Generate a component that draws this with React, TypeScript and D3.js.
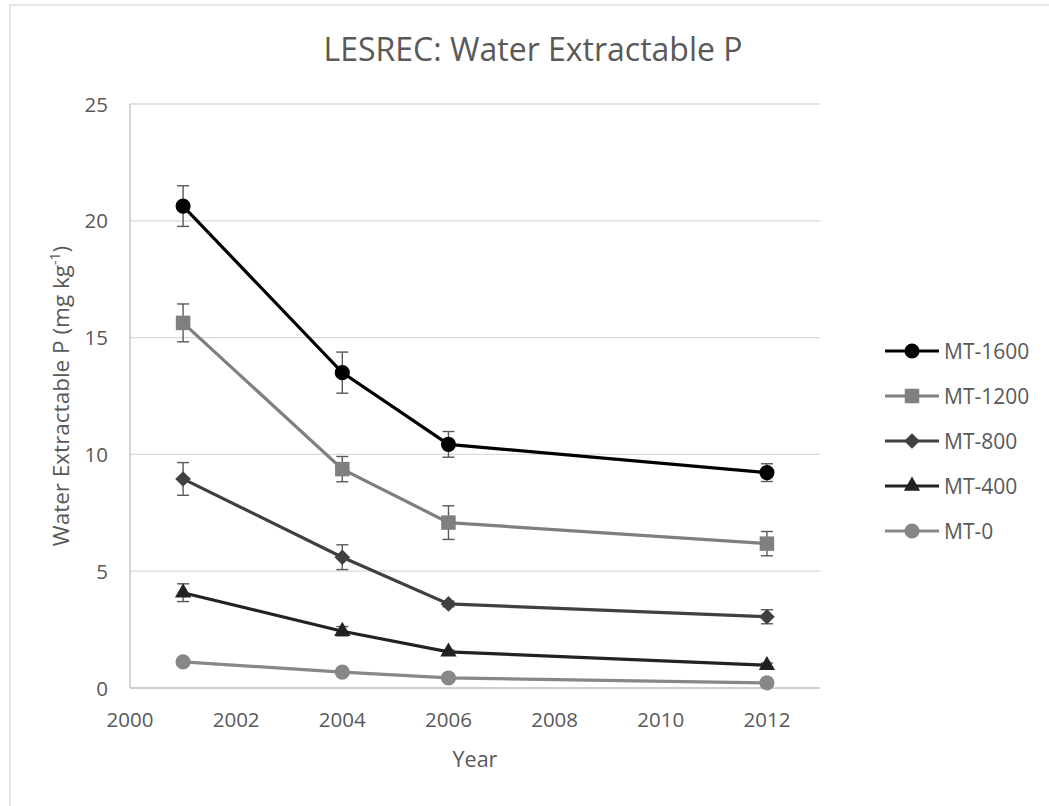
import React from "react";
import * as d3 from "d3";

const years = [2001, 2004, 2006, 2012];
const seriesNames = ["MT-1600", "MT-1200", "MT-800", "MT-400", "MT-0"];
const mt1600 = [20.63, 13.5, 10.43, 9.22];
const mt1600Err = [0.87, 0.88, 0.55, 0.38];
const mt1200 = [15.63, 9.37, 7.08, 6.18];
const mt1200Err = [0.81, 0.54, 0.72, 0.52];
const mt800 = [8.95, 5.6, 3.6, 3.05];
const mt800Err = [0.7, 0.53, 0.12, 0.3];
const mt400 = [4.08, 2.43, 1.55, 0.97];
const mt400Err = [0.38, 0.2, 0.08, 0.1];
const mt0 = [1.12, 0.68, 0.43, 0.22];
const mt0Err = [0.05, 0.04, 0.03, 0.03];
const yTicks = [0, 5, 10, 15, 20, 25];
const xTicks = [2000, 2002, 2004, 2006, 2008, 2010, 2012];

const FONT = "'Open Sans', sans-serif";
const TXT = "#595959";

const series = [
  { name: seriesNames[0], values: mt1600, err: mt1600Err, color: "#000000", marker: "circle" },
  { name: seriesNames[1], values: mt1200, err: mt1200Err, color: "#7f7f7f", marker: "square" },
  { name: seriesNames[2], values: mt800, err: mt800Err, color: "#404040", marker: "diamond" },
  { name: seriesNames[3], values: mt400, err: mt400Err, color: "#222222", marker: "triangle" },
  { name: seriesNames[4], values: mt0, err: mt0Err, color: "#878787", marker: "circle" },
];

function symbolFor(m: string) {
  if (m === "circle") return d3.symbol(d3.symbolCircle, 180)();
  if (m === "square") return d3.symbol(d3.symbolSquare, 210)();
  if (m === "diamond") {
    const p = d3.path();
    const r = 7.8;
    p.moveTo(0, -r);
    p.lineTo(r, 0);
    p.lineTo(0, r);
    p.lineTo(-r, 0);
    p.closePath();
    return p.toString();
  }
  return d3.symbol(d3.symbolTriangle, 115)();
}

export default function App() {
  const left = 130, right = 820, top = 104, bottom = 688;
  const x = d3.scaleLinear().domain([2000, 2013]).range([left, right]);
  const y = d3.scaleLinear().domain([0, 25]).range([bottom, top]);
  const line = d3.line<number>().x((_, i) => x(years[i])).y((v) => y(v));
  const legendY = d3.scalePoint().domain(seriesNames).range([351, 531]);

  return (
    <svg width={1049} height={806} style={{ position: "absolute", left: 0, top: 0, background: "#fff" }}>
      <rect x={10} y={5} width={1100} height={900} fill="#fff" stroke="#d9d9d9" strokeWidth={1.3} />
      <text x={533} y={61} textAnchor="middle" fontFamily={FONT} fontSize={32} fill={TXT}>
        LESREC: Water Extractable P
      </text>
      {yTicks.map((t) => (
        <g key={t}>
          {t > 0 && <line x1={left} x2={right} y1={y(t)} y2={y(t)} stroke="#d9d9d9" strokeWidth={1.3} />}
          <text x={108} y={y(t) + 7.5} textAnchor="end" fontFamily={FONT} fontSize={20.5} fill={TXT}>
            {t}
          </text>
        </g>
      ))}
      <line x1={left} x2={right} y1={bottom} y2={bottom} stroke="#bfbfbf" strokeWidth={1.3} />
      <line x1={left} x2={left} y1={top} y2={bottom} stroke="#bfbfbf" strokeWidth={1.3} />
      {xTicks.map((t) => (
        <text key={t} x={x(t)} y={727} textAnchor="middle" fontFamily={FONT} fontSize={20.5} fill={TXT}>
          {t}
        </text>
      ))}
      <text x={475} y={767} textAnchor="middle" fontFamily={FONT} fontSize={21.5} fill={TXT}>
        Year
      </text>
      <text
        transform={`translate(69,${(top + bottom) / 2}) rotate(-90)`}
        textAnchor="middle"
        fontFamily={FONT}
        fontSize={22.5}
        fill={TXT}
      >
        Water Extractable P (mg kg<tspan dy={-9} fontSize={14}>-1</tspan><tspan dy={9}>)</tspan>
      </text>
      {series.map((s) => (
        <g key={s.name}>
          {s.values.map((v, i) => (
            <g key={i} stroke="#595959" strokeWidth={1.4}>
              <line x1={x(years[i])} x2={x(years[i])} y1={y(v - s.err[i])} y2={y(v + s.err[i])} />
              <line x1={x(years[i]) - 6} x2={x(years[i]) + 6} y1={y(v - s.err[i])} y2={y(v - s.err[i])} />
              <line x1={x(years[i]) - 6} x2={x(years[i]) + 6} y1={y(v + s.err[i])} y2={y(v + s.err[i])} />
            </g>
          ))}
          <path d={line(s.values) || ""} fill="none" stroke={s.color} strokeWidth={3.2} />
          {s.values.map((v, i) => (
            <path key={i} d={symbolFor(s.marker) || ""} transform={`translate(${x(years[i])},${y(v)})`} fill={s.color} />
          ))}
        </g>
      ))}
      {series.map((s) => {
        const ly = legendY(s.name) as number;
        return (
          <g key={s.name}>
            <line x1={885} x2={939} y1={ly} y2={ly} stroke={s.color} strokeWidth={3.2} />
            <path d={symbolFor(s.marker) || ""} transform={`translate(912,${ly})`} fill={s.color} />
            <text x={944} y={ly + 7.5} fontFamily={FONT} fontSize={21} fill={TXT}>
              {s.name}
            </text>
          </g>
        );
      })}
    </svg>
  );
}
